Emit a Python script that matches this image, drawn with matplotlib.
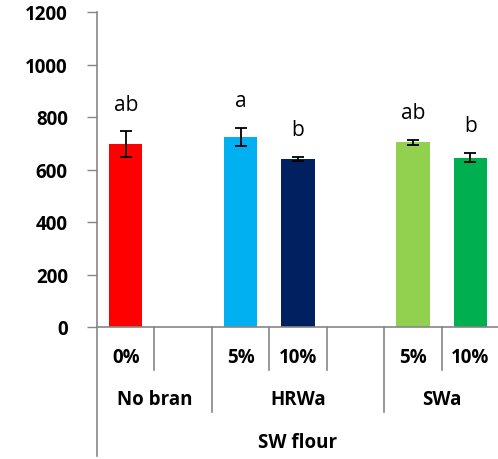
import numpy as np
import matplotlib
matplotlib.use("Agg")
import matplotlib.pyplot as plt

plt.rcParams['font.family'] = ['Open Sans', 'DejaVu Sans']

# ---- data ----
slot_labels = ['0%', '', '5%', '10%', '', '5%', '10%']
values = [697, None, 725, 641, None, 704, 645]
errors = [49, None, 35, 8, None, 9, 18]
letters = ['ab', '', 'a', 'b', '', 'ab', 'b']
colors = ['#FF0000', None, '#00B0F0', '#002060', None, '#92D050', '#00B050']
groups = ['No bran', 'HRWa', 'SWa']
group_spans = [(0, 1), (2, 4), (5, 6)]
outer_label = 'SW flour'
yticks = [0, 200, 400, 600, 800, 1000, 1200]

W, H = 498, 460
fig = plt.figure(figsize=(W / 100, H / 100), dpi=100)
ax_left, ax_right, ax_top, ax_bot = 97, 499, 13, 328
ax = fig.add_axes([ax_left / W, (H - ax_bot) / H, (ax_right - ax_left) / W, (ax_bot - ax_top) / H])

n = len(slot_labels)
idx = [i for i, v in enumerate(values) if v is not None]
xs = np.array(idx)
vals = np.array([values[i] for i in idx])
errs = np.array([errors[i] for i in idx])
cols = [colors[i] for i in idx]

ax.bar(xs, vals, width=0.58, color=cols, zorder=2)
ax.errorbar(xs, vals, yerr=errs, fmt='none', ecolor='black', elinewidth=1.3,
            capsize=4.5, capthick=1.3, zorder=3)

for i in idx:
    top = values[i] + errors[i]
    ax.annotate(letters[i], (i, top), xytext=(0, 12), textcoords='offset points',
                ha='center', va='bottom', fontsize=15, color='black')

ax.set_xlim(-0.5, n - 0.5)
ax.set_ylim(0, 1200)
ax.set_yticks(yticks)
ax.set_yticklabels([str(t) for t in yticks], fontsize=13.5, fontweight='bold')
ax.tick_params(axis='y', direction='out', length=7, width=1, color='#868686', pad=14)
ax.set_xticks([])

for s in ['top', 'right']:
    ax.spines[s].set_visible(False)
for s in ['left', 'bottom']:
    ax.spines[s].set_color('#868686')
    ax.spines[s].set_linewidth(1.2)

trans = ax.get_xaxis_transform()
px = 1.0 / (ax_bot - ax_top)  # axes fraction per pixel (vertical)
line_kw = dict(color='#868686', lw=1.2, clip_on=False, transform=trans)

# left spine extension
ax.plot([-0.5, -0.5], [0, -(457 - ax_bot) * px], **line_kw)

# dividers
group_bounds = [s[1] + 0.5 for s in group_spans[:-1]]
for b in np.arange(0.5, n - 0.5, 1.0):
    if b in group_bounds:
        ax.plot([b, b], [0, -(413 - ax_bot) * px], **line_kw)
    else:
        ax.plot([b, b], [0, -(371 - ax_bot) * px], **line_kw)

# slot labels
lab_kw = dict(transform=trans, ha='center', va='center', fontsize=13.5, fontweight='bold')
for i, lab in enumerate(slot_labels):
    if lab:
        ax.text(i, -(358 - ax_bot) * px, lab, **lab_kw)

for g, (a, b) in zip(groups, group_spans):
    ax.text((a + b) / 2, -(400 - ax_bot) * px, g, **lab_kw)

ax.text((n - 1) / 2, -(443 - ax_bot) * px, outer_label, **lab_kw)

fig.savefig('out.png', dpi=100)
